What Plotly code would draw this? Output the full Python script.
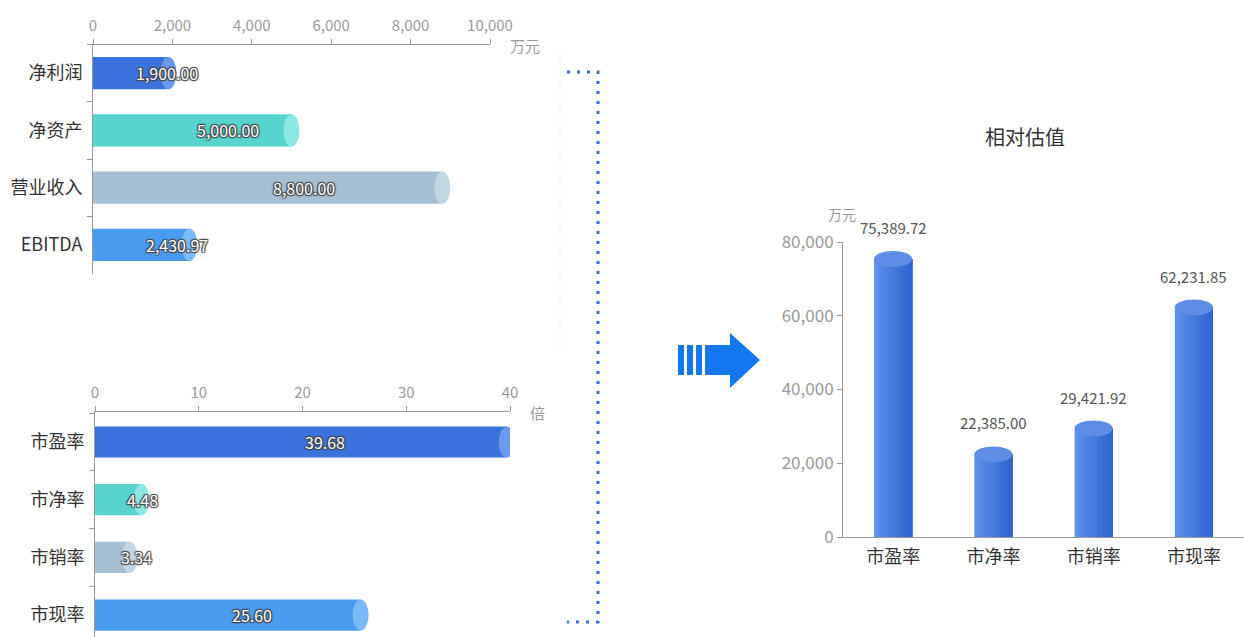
import plotly.graph_objects as go

W, H = 1244, 637

# ---------------- data ----------------
fin_cats = ["净利润", "净资产", "营业收入", "EBITDA"]
fin_vals = [1900.00, 5000.00, 8800.00, 2430.97]
fin_ticks = [0, 2000, 4000, 6000, 8000, 10000]

mult_cats = ["市盈率", "市净率", "市销率", "市现率"]
mult_vals = [39.68, 4.48, 3.34, 25.60]
mult_ticks = [0, 10, 20, 30, 40]

val_cats = ["市盈率", "市净率", "市销率", "市现率"]
val_vals = [75389.72, 22385.00, 29421.92, 62231.85]
val_ticks = [0, 20000, 40000, 60000, 80000]

# ---------------- styles ----------------
bar_colors = ["#3c72db", "#56d4cd", "#a6bfd2", "#4a9cf0"]
cap_colors = ["#6a98ec", "#8ae7e2", "#c3d6e4", "#7cb9f7"]
val_left = (0x5c, 0x90, 0xe9)
val_right = (0x30, 0x64, 0xd0)
val_cap = "#5f8de6"
FONT = "Noto Sans CJK SC"
outline = "1px 1px 1px #444, -1px -1px 1px #444, 1px -1px 1px #444, -1px 1px 1px #444"
BARW = 0.38
NSLICE = 12


def px(x, y):
    return x / W, 1 - y / H


def mix(a, b, t):
    return "#%02x%02x%02x" % tuple(int(round(a[k] + (b[k] - a[k]) * t)) for k in range(3))


fig = go.Figure()

fig.add_trace(go.Bar(x=fin_vals, y=fin_cats, orientation="h", width=0.56,
                     marker=dict(color=bar_colors, line=dict(width=0)),
                     xaxis="x", yaxis="y", hoverinfo="x+y"))
fig.add_trace(go.Bar(x=mult_vals, y=mult_cats, orientation="h", width=0.54,
                     marker=dict(color=bar_colors, line=dict(width=0)),
                     xaxis="x2", yaxis="y2", hoverinfo="x+y"))
# right: cylinder body; successive overlaid copies of the same bars, each narrower from the
# left, produce a left-to-right gradient without seams
sw = BARW / NSLICE
for k in range(NSLICE):
    fig.add_trace(go.Bar(x=val_cats, y=val_vals, width=BARW - k * sw, offset=-BARW / 2 + k * sw,
                         marker=dict(color=mix(val_left, val_right, k / (NSLICE - 1)),
                                     line=dict(width=0)),
                         xaxis="x3", yaxis="y3", hoverinfo="x+y" if k == 0 else "skip"))

shapes = []
annotations = []

# cylinder caps + labels: top-left
for i, v in enumerate(fin_vals):
    shapes.append(dict(type="circle", xref="x", yref="y", xsizemode="pixel", xanchor=v,
                       x0=-8, x1=8, y0=i - 0.28, y1=i + 0.28,
                       fillcolor=cap_colors[i], line=dict(width=0)))
    annotations.append(dict(xref="x", yref="y", x=v / 2, y=i, xshift=36, showarrow=False,
                            text=f"{v:,.2f}",
                            font=dict(family=FONT, size=16, color="white", shadow=outline)))

# bottom-left
for i, v in enumerate(mult_vals):
    shapes.append(dict(type="circle", xref="x2", yref="y2", xsizemode="pixel", xanchor=v,
                       x0=-8, x1=8, y0=i - 0.27, y1=i + 0.27,
                       fillcolor=cap_colors[i], line=dict(width=0)))
    annotations.append(dict(xref="x2", yref="y2", x=v / 2, y=i, xshift=24, showarrow=False,
                            text=f"{v:,.2f}",
                            font=dict(family=FONT, size=16, color="white", shadow=outline)))

# right
for i, v in enumerate(val_vals):
    shapes.append(dict(type="circle", xref="x3", yref="y3", ysizemode="pixel", yanchor=v,
                       y0=-8, y1=8, x0=i - BARW / 2, x1=i + BARW / 2,
                       fillcolor=val_cap, line=dict(width=0)))
    annotations.append(dict(xref="x3", yref="y3", x=i, y=v, yshift=19, yanchor="bottom",
                            showarrow=False, text=f"{v:,.2f}",
                            font=dict(family=FONT, size=15, color="#555")))

# axis names / title
for (x, y, t, s, c) in [(525, 45, "万元", 15, "#999"), (537, 412, "倍", 15, "#999"),
                        (842, 214, "万元", 14, "#999"), (1025, 137, "相对估值", 20, "#333")]:
    ax_, ay_ = px(x, y)
    annotations.append(dict(xref="paper", yref="paper", x=ax_, y=ay_, text=t, showarrow=False,
                            xanchor="center", yanchor="middle",
                            font=dict(family=FONT, size=s, color=c)))

# arrow
for (a, b) in [(678, 684), (687, 693), (696, 702)]:
    x0, y0 = px(a, 375)
    x1, y1 = px(b, 345)
    shapes.append(dict(type="rect", xref="paper", yref="paper", x0=x0, x1=x1, y0=y0, y1=y1,
                       fillcolor="#1677f2", line=dict(width=0)))
pts = [(705, 345), (730, 345), (730, 333), (760, 360), (730, 388), (730, 375), (705, 375)]
path = "M " + " L ".join(f"{px(x, y)[0]:.5f},{px(x, y)[1]:.5f}" for x, y in pts) + " Z"
shapes.append(dict(type="path", xref="paper", yref="paper", path=path,
                   fillcolor="#1677f2", line=dict(width=0)))

# dotted bracket
bpts = [(567, 72), (598, 72), (598, 622), (567, 622)]
bpath = "M " + " L ".join(f"{px(x, y)[0]:.5f},{px(x, y)[1]:.5f}" for x, y in bpts)
shapes.append(dict(type="path", xref="paper", yref="paper", path=bpath,
                   line=dict(color="#3a6ad8", width=3, dash="3px,7px")))
fx0, fy0 = px(560, 50)
fx1, fy1 = px(560, 350)
shapes.append(dict(type="line", xref="paper", yref="paper", x0=fx0, x1=fx1, y0=fy0, y1=fy1,
                   line=dict(color="#ececec", width=1, dash="dot")))

common_x = dict(showgrid=False, zeroline=False, showline=True, linecolor="#999", linewidth=1,
                ticks="outside", ticklen=5, tickcolor="#999", tickformat=",",
                tickfont=dict(family=FONT, size=15, color="#999"), fixedrange=True,
                automargin=False, ticklabelstandoff=2)
common_y = dict(showgrid=False, zeroline=False, showline=True, linecolor="#999", linewidth=1,
                ticks="outside", ticklen=5, tickcolor="#999", tickson="boundaries",
                type="category", tickfont=dict(family=FONT, size=18, color="#333"),
                fixedrange=True, automargin=False, ticklabelstandoff=6)

fig.update_layout(
    template="none",
    width=W, height=H, autosize=False,
    margin=dict(l=0, r=0, t=0, b=0, pad=0),
    paper_bgcolor="white", plot_bgcolor="white",
    showlegend=False, font=dict(family=FONT), barmode="overlay",
    xaxis=dict(domain=[93 / W, 490 / W], anchor="y", side="top", range=[0, 10000],
               tickvals=fin_ticks, **common_x),
    yaxis=dict(domain=[1 - 273.5 / H, 1 - 44.5 / H], anchor="x", range=[3.5, -0.5],
               categoryorder="array", categoryarray=fin_cats, **common_y),
    xaxis2=dict(domain=[95 / W, 510 / W], anchor="y2", side="top", range=[0, 40],
                tickvals=mult_ticks, **common_x),
    yaxis2=dict(domain=[0, 1 - 412 / H], anchor="x2", range=[3.38, -0.52],
                categoryorder="array", categoryarray=mult_cats, **common_y),
    xaxis3=dict(domain=[843 / W, 1.0], anchor="y3", type="category", range=[-0.5, 3.5],
                categoryorder="array", categoryarray=val_cats,
                showgrid=False, zeroline=False, showline=True, linecolor="#999", ticks="",
                tickfont=dict(family=FONT, size=18, color="#333"), fixedrange=True,
                automargin=False, ticklabelstandoff=3),
    yaxis3=dict(domain=[1 - 537 / H, 1 - 242 / H], anchor="x3", range=[0, 80000],
                tickvals=val_ticks, showgrid=False, zeroline=False, showline=True,
                linecolor="#999", ticks="outside", ticklen=5, tickcolor="#999",
                tickformat=",", tickfont=dict(family=FONT, size=17, color="#999"),
                fixedrange=True, automargin=False),
    shapes=shapes,
    annotations=annotations,
)

fig.write_html("out.html", config={"displayModeBar": False},
               post_script="document.body.style.margin='0';document.body.style.overflow='hidden';")
